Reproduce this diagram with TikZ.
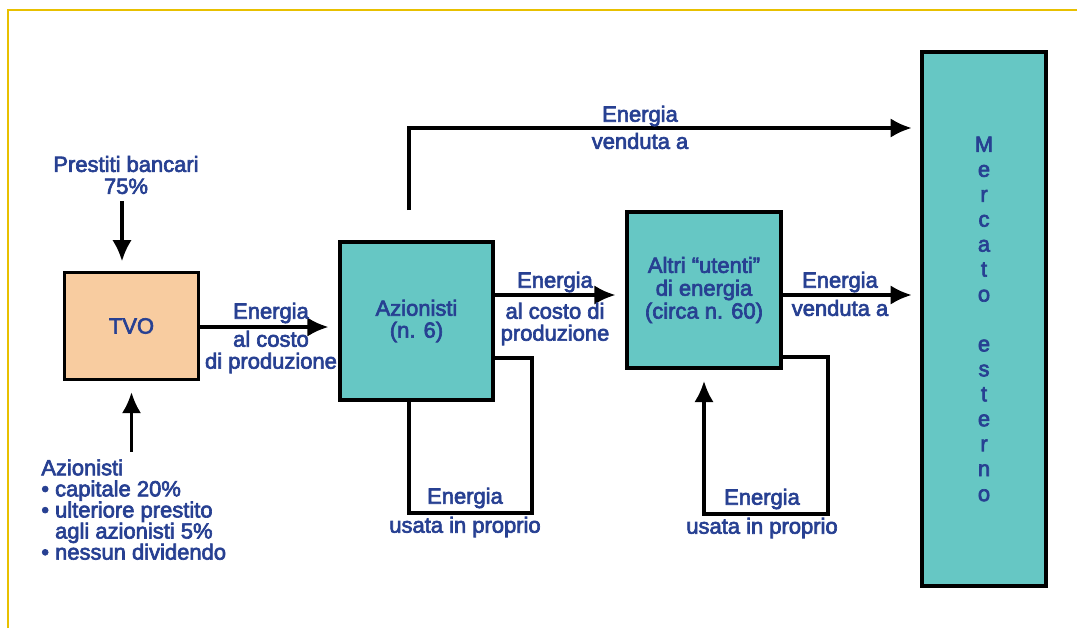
\documentclass[tikz,border=0pt]{standalone}
\usepackage{fontspec}
\setmainfont{Liberation Sans}
\newfontfamily\lblfont{Liberation Sans}[FakeBold=3]
\usepackage{tikz}
\usetikzlibrary{calc, arrows.meta, positioning}
\definecolor{myblue}{RGB}{39, 64, 146}
\definecolor{myteal}{RGB}{102, 199, 196}
\definecolor{myorange}{RGB}{248, 204, 160}
\definecolor{myyellow}{RGB}{232, 192, 0}
\tikzset{
  lbl/.style={text=myblue, font=\lblfont\fontsize{12.5}{12.5}\selectfont, align=center, inner sep=0pt},
  box/.style={draw, line width=1.8pt, inner sep=0pt, text=myblue, align=center, font=\lblfont\fontsize{12.5}{12.5}\selectfont},
  flow/.style={line width=1.8pt, -{Latex[length=12pt, width=11pt]}},
  wire/.style={line width=1.8pt}
}

\begin{document}
\begin{tikzpicture}[x=0.02cm, y=-0.02cm]
\useasboundingbox (0, 0) rectangle (1077, 628);
% frame
\draw[myyellow, line width=1.1pt] (8, 628) -- (8, 10) -- (1077, 10);

% boxes
\node[box, fill=myorange, minimum width=2.68cm, minimum height=2.14cm] (tvo) at (131.5, 326) {TVO};
\node[box, fill=myteal, minimum width=3.06cm, minimum height=3.16cm] (az) at (416.5, 321) {Azionisti\\(n. 6)};
\node[box, fill=myteal, minimum width=3.08cm, minimum height=3.12cm, font=\lblfont\fontsize{12.5}{13}\selectfont] (altri) at (704, 290) {Altri “utenti”\\di energia\\(circa n. 60)};
\node[box, fill=myteal, minimum width=2.48cm, minimum height=10.68cm, font=\lblfont\fontsize{12.5}{14.2}\selectfont] (merc) at (984, 319)
  {M\\e\\r\\c\\a\\t\\o\\[14.2pt]e\\s\\t\\e\\r\\n\\o};

% sources of TVO
\node[lbl] (pb) at (126, 175) {Prestiti bancari\\75\%};
\node[lbl, anchor=north west, align=left, font=\lblfont\fontsize{12.5}{12}\selectfont] (azl) at (41, 459)
  {Azionisti\\\textbullet\ capitale 20\%\\\textbullet\ ulteriore prestito\\\phantom{\textbullet\ }agli azionisti 5\%\\\textbullet\ nessun dividendo};
\draw[flow, shorten <=4pt, shorten >=5.5pt] (pb.south -| 122, 0) -- (tvo.north -| 122, 0);
\draw[flow, shorten <=4pt, shorten >=6.3pt] (tvo.south |- azl.north) -- (tvo.south);

% TVO -> Azionisti
\draw[flow, shorten >=5.7pt] (tvo.east |- 0, 327) -- (az.west |- 0, 327);
\node[lbl] (e1) at (271, 313) {Energia};
\node[lbl] (c1) at (271, 352) {al costo\\di produzione};

% Azionisti -> Altri
\draw[flow, shorten >=5.7pt] (az.east |- 0, 295) -- (altri.west |- 0, 295);
\node[lbl] (e2) at (555, 282) {Energia};
\node[lbl] (c2) at (555, 324) {al costo di\\produzione};

% Azionisti, own use
\draw[wire] (az.east |- 0, 358) -| (532, 513) -| (az.south -| 409, 0);
\node[lbl] (u1) at (465, 498) {Energia};
\node[lbl] (p1) at (465, 527) {usata in proprio};

% sold to the market
\coordinate (sale) at (409, 210);
\draw[flow, shorten >=5pt] (sale) |- (merc.west |- 0, 128);
\node[lbl] (e3) at (640, 116) {Energia};
\node[lbl] (v3) at (640, 141) {venduta a};

% Altri -> Mercato
\draw[flow, shorten >=5pt] (altri.east |- 0, 295) -- (merc.west |- 0, 295);
\node[lbl] (e4) at (840, 282) {Energia};
\node[lbl] (v4) at (840, 308) {venduta a};

% Altri, own use
\draw[flow, shorten >=6.5pt] (altri.east |- 0, 357) -| (828, 514) -| (altri.south);
\node[lbl] (u2) at (762, 499) {Energia};
\node[lbl] (p2) at (762, 528) {usata in proprio};
\end{tikzpicture}
\end{document}
